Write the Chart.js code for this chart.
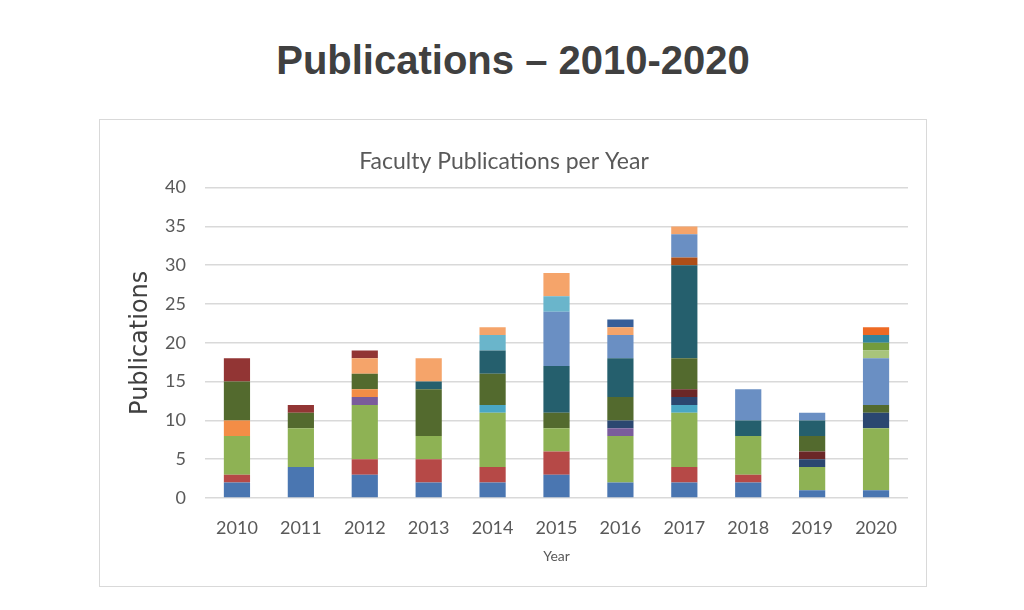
<!DOCTYPE html>
<html>
<head>
    <title>Publications 2010-2020</title>
    <script src="https://cdn.jsdelivr.net/npm/chart.js"></script>
    <style>
        body { margin: 0; background: #fff; width: 1024px; height: 610px; position: relative; overflow: hidden; }
        h1 {
            position: absolute; left: 0; width: 1026px; top: 38px; margin: 0;
            text-align: center; font: bold 40px "Liberation Sans", Arial, sans-serif; color: #404040;
        }
        #box {
            position: absolute; left: 99px; top: 119px; width: 826px; height: 466px;
            border: 1px solid #d9d9d9;
        }
    </style>
</head>
<body>
    <h1>Publications – 2010-2020</h1>
    <div id="box"><canvas id="pubChart"></canvas></div>

    <script>
        const years = ['2010', '2011', '2012', '2013', '2014', '2015', '2016', '2017', '2018', '2019', '2020'];

        // one array per stacked series, bottom to top
        const blue        = [2, 4, 3, 2, 2, 3, 2, 2, 2, 1, 1];
        const red         = [1, 0, 2, 3, 2, 3, 0, 2, 1, 0, 0];
        const green       = [5, 5, 7, 3, 7, 3, 6, 7, 5, 3, 8];
        const purple      = [0, 0, 1, 0, 0, 0, 1, 0, 0, 0, 0];
        const aqua        = [0, 0, 0, 0, 1, 0, 0, 1, 0, 0, 0];
        const orange      = [2, 0, 1, 0, 0, 0, 0, 0, 0, 0, 0];
        const darkBlue    = [0, 0, 0, 0, 0, 0, 1, 1, 0, 1, 2];
        const darkRed     = [0, 0, 0, 0, 0, 0, 0, 1, 0, 1, 0];
        const darkGreen   = [5, 2, 2, 6, 4, 2, 3, 4, 0, 2, 1];
        const darkTeal    = [0, 0, 0, 1, 3, 6, 5, 12, 2, 2, 0];
        const darkOrange  = [0, 0, 0, 0, 0, 0, 0, 1, 0, 0, 0];
        const lightBlue   = [0, 0, 0, 0, 0, 7, 3, 3, 4, 1, 6];
        const lightGreen  = [0, 0, 0, 0, 0, 0, 0, 0, 0, 0, 1];
        const lightAqua   = [0, 0, 0, 0, 2, 2, 0, 0, 0, 0, 0];
        const lightOrange = [0, 0, 2, 3, 1, 3, 1, 1, 0, 0, 0];
        const maroon      = [3, 1, 1, 0, 0, 0, 0, 0, 0, 0, 0];
        const midBlue     = [0, 0, 0, 0, 0, 0, 1, 0, 0, 0, 0];
        const olive       = [0, 0, 0, 0, 0, 0, 0, 0, 0, 0, 1];
        const teal        = [0, 0, 0, 0, 0, 0, 0, 0, 0, 0, 1];
        const brightOrange = [0, 0, 0, 0, 0, 0, 0, 0, 0, 0, 1];

        const series = [
            [blue, '#4a76b1'], [red, '#b64947'], [green, '#8eb254'], [purple, '#7a5c9b'],
            [aqua, '#4aa7c4'], [orange, '#f38d46'], [darkBlue, '#2b4770'], [darkRed, '#6b2727'],
            [darkGreen, '#536a2e'], [darkTeal, '#255f6d'], [darkOrange, '#ad4e18'], [lightBlue, '#6a8fc3'],
            [lightGreen, '#a8c47b'], [lightAqua, '#6ab5cb'], [lightOrange, '#f5a46a'], [maroon, '#923534'],
            [midBlue, '#375e98'], [olive, '#739b3d'], [teal, '#32849e'], [brightOrange, '#ee6a24']
        ];

        const ctx = document.getElementById('pubChart').getContext('2d');
        new Chart(ctx, {
            type: 'bar',
            data: {
                labels: years,
                datasets: series.map(s => ({
                    data: s[0],
                    backgroundColor: s[1],
                    borderWidth: 0,
                    categoryPercentage: 1,
                    barPercentage: 0.41
                }))
            },
            options: {
                responsive: true,
                maintainAspectRatio: false,
                animation: false,
                layout: { padding: { left: 0, right: 18, top: 0, bottom: 0 } },
                plugins: {
                    legend: { display: false },
                    tooltip: { enabled: false },
                    title: {
                        display: true,
                        text: 'Faculty Publications per Year',
                        color: '#595959',
                        font: { family: 'Lato', size: 23, weight: 'normal' },
                        padding: { top: 28, bottom: 12 }
                    }
                },
                scales: {
                    x: {
                        stacked: true,
                        grid: { display: false, drawTicks: false },
                        border: { display: false },
                        ticks: { color: '#595959', font: { family: 'Lato', size: 18 }, padding: 19 },
                        title: {
                            display: true, text: 'Year', color: '#595959',
                            font: { family: 'Lato', size: 14 }, padding: { top: 0, bottom: 21 }
                        },
                        afterFit: scale => { scale.height = 88; }
                    },
                    y: {
                        stacked: true,
                        min: 0,
                        max: 40,
                        grid: { color: '#d9d9d9', lineWidth: 1.5, drawTicks: false },
                        border: { display: false },
                        ticks: { stepSize: 5, color: '#595959', font: { family: 'Lato', size: 18 }, padding: 19 },
                        title: {
                            display: true, text: 'Publications', color: '#404040',
                            font: { family: 'DejaVu Sans', size: 24 }, padding: { top: 26, bottom: 0 }
                        },
                        afterFit: scale => { scale.width = 105; }
                    }
                }
            }
        });
    </script>
</body>
</html>
